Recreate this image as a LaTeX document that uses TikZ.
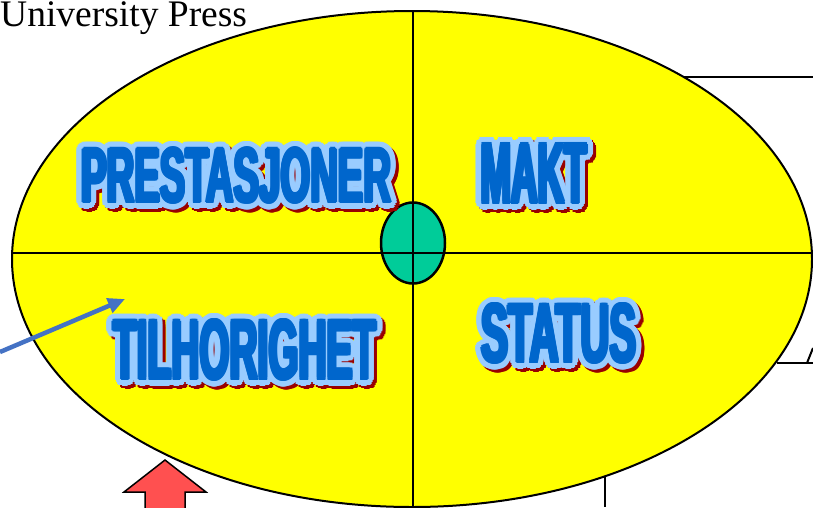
\documentclass[tikz,border=0pt]{standalone}
\usepackage{graphicx}
\usepackage{fontspec}
\setmainfont{Liberation Serif}
\newfontfamily\wafont{Liberation Sans}
\usetikzlibrary{arrows.meta,calc,shapes.geometric}
\definecolor{ellyellow}{HTML}{FFFF00}
\definecolor{eggreen}{HTML}{00CC99}
\definecolor{wablue}{HTML}{0066CC}
\definecolor{walight}{HTML}{99CCFF}
\definecolor{wared}{HTML}{990000}
\definecolor{arrblue}{HTML}{4472C4}
\definecolor{arrred}{HTML}{FF5050}
\newsavebox\boxprest
\newsavebox\boxmakt
\newsavebox\boxtilh
\newsavebox\boxstatus
\setbox\boxprest=\hbox{\resizebox{310pt}{54pt}{\wafont\bfseries PRESTASJONER}}
\setbox\boxmakt=\hbox{\resizebox{106pt}{59pt}{\wafont\bfseries MAKT}}
\setbox\boxtilh=\hbox{\resizebox{263pt}{59pt}{\wafont\bfseries TILHORIGHET}}
\setbox\boxstatus=\hbox{\resizebox{155pt}{58pt}{\wafont\bfseries STATUS}}
\tikzset{
  wa/.style={inner sep=0pt, outer sep=0pt},
  thinline/.style={line width=2pt, draw=black},
}
% #1 name, #2 x, #3 y, #4 box
\newcommand\wordart[4]{%
  \foreach \a in {0,15,...,345}{\node[wa, text=wared] at ($(#2,#3)+(3,3)+(\a:7)$) {\usebox#4};}
  \foreach \a in {0,15,...,345}{\node[wa, text=walight] at ($(#2,#3)+(\a:7)$) {\usebox#4};}
  \foreach \a in {0,45,...,315}{\node[wa, text=wablue] at ($(#2,#3)+(\a:1.6)$) {\usebox#4};}
  \node[wa, text=wablue] (#1) at (#2,#3) {\usebox#4};
}
\begin{document}
\begin{tikzpicture}[x=1pt, y=-1pt]
\useasboundingbox (0,0) rectangle (813,507);
\clip (0,0) rectangle (813,507);
% side lines
\draw[thinline] (683,77) -- (813,77);
\draw[thinline] (777,363) -- (813,363);
\draw[thinline] (807,363) -- (813,348);
% big ellipse
\node[ellipse, draw=black, line width=2pt, fill=ellyellow, minimum width=800pt, minimum height=496pt, inner sep=0pt] (big) at (412,259) {};
% small green ellipse
\node[ellipse, draw=black, line width=2.5pt, fill=eggreen, minimum width=64pt, minimum height=81pt, inner sep=0pt] (hub) at (413,243) {};
% cross lines
\draw[thinline] (12,253) -- (813,253);
\draw[thinline] (413,12) -- (413,507);
\draw[thinline] (605,477) -- (605,507);
% word art labels
\wordart{prest}{236.5}{175.5}{\boxprest}
\wordart{makt}{534}{173.5}{\boxmakt}
\wordart{tilh}{245}{350}{\boxtilh}
\wordart{status}{559}{333.5}{\boxstatus}
% blue arrow
\coordinate (bluestart) at (0,352);
\coordinate (bluetip) at (125,299);
\draw[arrblue, line width=4.5pt, -{Triangle[length=17pt, width=15pt]}] (bluestart) -- (bluetip);
% red block arrow
\draw[fill=arrred, draw=black, line width=1.5pt] (165,460) -- (206,492) -- (185,492) -- (185,512) -- (145,512) -- (145,492) -- (124,492) -- cycle;
% heading text
\node[anchor=base west, inner sep=0pt, font=\fontsize{37.5}{40}\selectfont] (uni) at (0,26) {University Press};
\end{tikzpicture}
\end{document}
